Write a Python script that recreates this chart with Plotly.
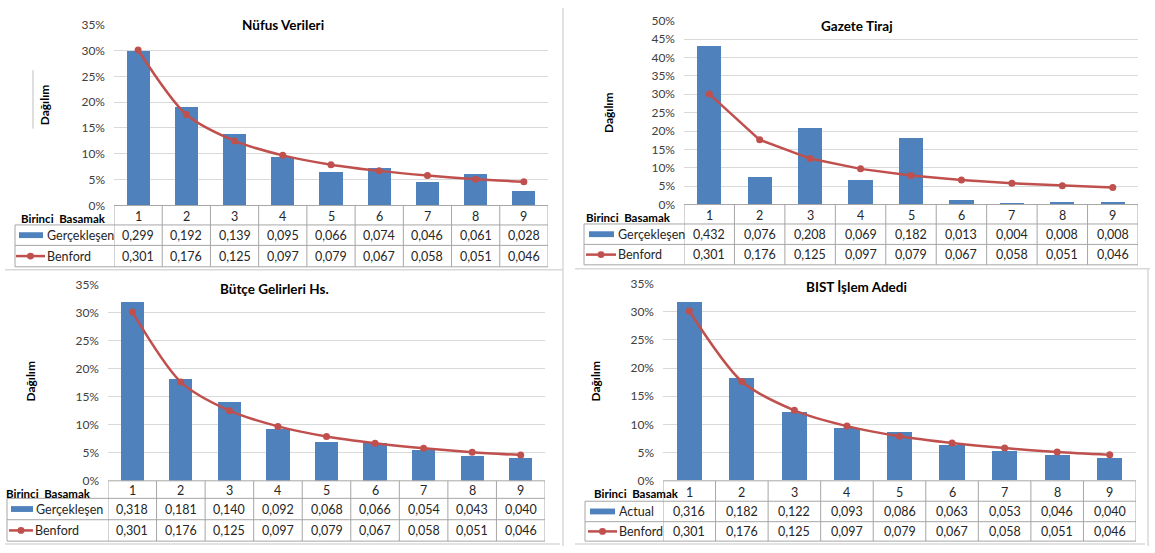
import plotly.graph_objects as go

# ---------------- data ----------------
digits = [1, 2, 3, 4, 5, 6, 7, 8, 9]
benford = [0.301, 0.176, 0.125, 0.097, 0.079, 0.067, 0.058, 0.051, 0.046]
nufus = [0.299, 0.192, 0.139, 0.095, 0.066, 0.074, 0.046, 0.061, 0.028]
gazete = [0.432, 0.076, 0.208, 0.069, 0.182, 0.013, 0.004, 0.008, 0.008]
butce = [0.318, 0.181, 0.140, 0.092, 0.068, 0.066, 0.054, 0.043, 0.040]
bist = [0.316, 0.182, 0.122, 0.093, 0.086, 0.063, 0.053, 0.046, 0.040]
titles = ["Nüfus Verileri", "Gazete Tiraj", "Bütçe Gelirleri Hs.", "BIST İşlem Adedi"]
actual_labels = ["Gerçekleşen", "Gerçekleşen", "Gerçekleşen", "Actual"]
benford_label = "Benford"
x_label = "Birinci  Basamak"
y_label = "Dağılım"
y_max = [0.35, 0.50, 0.35, 0.35]
series = [nufus, gazete, butce, bist]

# ---------------- layout geometry (pixels) ----------------
W, H = 1155, 553
FONT = "Lato"
BLUE = "#4F81BD"
RED = "#C0504D"
GRID = "#D9D9D9"
TLINE = "#A6A6A6"
TXT = "#262626"

panels = [
    dict(x0=114, x1=548, ytop=17, ybase=203, hb=223, r2=244, r3=266, tl=15,
         tx=283, ty=17, ax=44, ay=100, bbr=108, bi=(19, 43), tx2=45, li=(16, 45), ls="spline"),
    dict(x0=684, x1=1138, ytop=13, ybase=202, hb=222, r2=243, r3=264, tl=584,
         tx=857, ty=18, ax=608, ay=108, bbr=673, bi=(589, 614), tx2=616, li=(586, 616), ls="linear"),
    dict(x0=108, x1=545, ytop=284, ybase=486, hb=504, r2=526, r3=548, tl=7,
         tx=274, ty=289, ax=31, ay=384, bbr=93, bi=(11, 33), tx2=34, li=(9, 33), ls="spline"),
    dict(x0=663, x1=1136, ytop=283, ybase=486, hb=507, r2=528, r3=548, tl=585,
         tx=856, ty=287, ax=596, ay=384, bbr=681, bi=(590, 615), tx2=617, li=(588, 617), ls="spline"),
]


def px(x):
    return x / W


def py(y):
    return 1 - y / H


fig = go.Figure()
shapes = []
annotations = []
layout = {}


def fmt(v):
    return f"{v:.3f}".replace(".", ",")


for i, p in enumerate(panels):
    n = "" if i == 0 else str(i + 1)
    xa, ya = "x" + n, "y" + n
    layout["xaxis" + n] = dict(domain=[px(p["x0"]), px(p["x1"])], range=[0.5, 9.5],
                               showticklabels=False, showgrid=False, zeroline=False,
                               showline=False, fixedrange=True, anchor=ya)
    layout["yaxis" + n] = dict(domain=[py(p["ybase"]), py(p["ytop"])],
                               range=[0, y_max[i] * 1.0005], dtick=0.05, tickformat=".0%",
                               gridcolor=GRID, gridwidth=1, zeroline=False, showline=False,
                               tickfont=dict(family=FONT, size=12, color="#404040"),
                               ticklabelstandoff=8, anchor=xa)

    fig.add_trace(go.Bar(x=digits, y=series[i], width=0.48, marker=dict(color=BLUE, line=dict(width=0)),
                         xaxis=xa, yaxis=ya, showlegend=False))
    fig.add_trace(go.Scatter(x=digits, y=benford, mode="lines+markers", xaxis=xa, yaxis=ya,
                             line=dict(color=RED, width=2.5, shape=p["ls"], smoothing=0.8),
                             marker=dict(color=RED, size=7), showlegend=False))

    # title
    annotations.append(dict(text="<b>" + titles[i] + "</b>", x=px(p["tx"]), y=py(p["ty"]),
                            xref="paper", yref="paper", showarrow=False, bgcolor="white",
                            font=dict(family=FONT, size=13.5, color="#000000"),
                            xanchor="center", yanchor="middle", borderpad=1))
    # y-axis title
    annotations.append(dict(text="<b>" + y_label + "</b>", x=px(p["ax"]), y=py(p["ay"]),
                            xref="paper", yref="paper", showarrow=False, textangle=-90,
                            font=dict(family=FONT, size=12, color="#000000"),
                            xanchor="center", yanchor="middle"))

    # table lines
    xl, xr = px(p["tl"]), px(p["x1"])
    shapes.append(dict(type="line", xref="paper", yref="paper", x0=px(p["x0"]), x1=xr,
                       y0=py(p["ybase"]), y1=py(p["ybase"]), line=dict(color=TLINE, width=1)))
    for yy in (p["hb"], p["r2"], p["r3"]):
        shapes.append(dict(type="line", xref="paper", yref="paper", x0=xl, x1=xr,
                           y0=py(yy), y1=py(yy), line=dict(color=TLINE, width=1)))
    shapes.append(dict(type="line", xref="paper", yref="paper", x0=xl, x1=xl,
                       y0=py(p["hb"]), y1=py(p["r3"]), line=dict(color=TLINE, width=1)))
    for k in range(10):
        shapes.append(dict(type="line", xref=xa, yref="paper", x0=k + 0.5, x1=k + 0.5,
                           y0=py(p["ybase"]), y1=py(p["r3"]), line=dict(color=TLINE, width=1)))

    hc = (p["ybase"] + p["hb"]) / 2 + 1
    c2 = (p["hb"] + p["r2"]) / 2
    c3 = (p["r2"] + p["r3"]) / 2
    # header label (sits just under the 0% tick label)
    annotations.append(dict(text="<b>" + x_label + "</b>", x=px(p["bbr"]), y=py(p["ybase"] + 13.5),
                            xref="paper", yref="paper", showarrow=False, xanchor="right",
                            yanchor="middle", font=dict(family=FONT, size=11.5, color="#000000")))
    # cells
    for d, a, b in zip(digits, series[i], benford):
        annotations.append(dict(text=str(d), x=d, y=py(hc), xref=xa, yref="paper", showarrow=False,
                                font=dict(family=FONT, size=12.5, color=TXT), yanchor="middle"))
        annotations.append(dict(text=fmt(a), x=d, y=py(c2), xref=xa, yref="paper", showarrow=False,
                                font=dict(family=FONT, size=12.5, color=TXT), yanchor="middle"))
        annotations.append(dict(text=fmt(b), x=d, y=py(c3), xref=xa, yref="paper", showarrow=False,
                                font=dict(family=FONT, size=12.5, color=TXT), yanchor="middle"))
    # row labels with legend keys
    b0, b1 = p["bi"]
    shapes.append(dict(type="rect", xref="paper", yref="paper", x0=px(b0), x1=px(b1),
                       y0=py(c2 - 3), y1=py(c2 + 3), line=dict(width=0), fillcolor=BLUE))
    l0, l1 = p["li"]
    shapes.append(dict(type="line", xref="paper", yref="paper", x0=px(l0), x1=px(l1),
                       y0=py(c3), y1=py(c3), line=dict(color=RED, width=2.5)))
    mc = (l0 + l1) / 2
    shapes.append(dict(type="circle", xref="paper", yref="paper", x0=px(mc - 3.5), x1=px(mc + 3.5),
                       y0=py(c3 - 3.5), y1=py(c3 + 3.5), line=dict(width=0), fillcolor=RED))
    annotations.append(dict(text=actual_labels[i], x=px(p["tx2"]), y=py(c2), xref="paper", yref="paper",
                            showarrow=False, xanchor="left", yanchor="middle",
                            font=dict(family=FONT, size=12.5, color=TXT)))
    annotations.append(dict(text=benford_label, x=px(l1), y=py(c3), xref="paper", yref="paper",
                            showarrow=False, xanchor="left", yanchor="middle",
                            font=dict(family=FONT, size=12.5, color=TXT)))

# panel frame remnants
BORDER = "#D9D9D9"
for (x0, y0, x1, y1) in [(5, 269, 563, 269), (563, 0, 563, 553), (575, 268, 1150, 268),
                         (1148, 268, 1148, 553), (5, 551, 560, 551), (575, 551, 1145, 551)]:
    shapes.append(dict(type="line", xref="paper", yref="paper", x0=px(x0), x1=px(x1),
                       y0=py(y0), y1=py(y1), line=dict(color=BORDER, width=1.5)))
shapes.append(dict(type="line", xref="paper", yref="paper", x0=px(33), x1=px(33),
                   y0=py(64), y1=py(124), line=dict(color="#BFBFBF", width=1)))

fig.update_layout(width=W, height=H, margin=dict(l=0, r=0, t=0, b=0), autosize=False,
                  paper_bgcolor="white", plot_bgcolor="white", bargap=0,
                  shapes=shapes, annotations=annotations, showlegend=False,
                  font=dict(family=FONT), **layout)
fig.write_html("out.html", config=dict(displayModeBar=False))
